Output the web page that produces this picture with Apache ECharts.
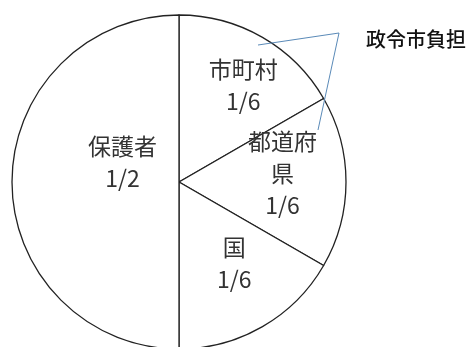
<!DOCTYPE html>
<html>
<head>
<meta charset="utf-8">
<script src="https://cdn.jsdelivr.net/npm/echarts@6/dist/echarts.min.js"></script>
<style>
  html, body { margin: 0; padding: 0; background: #fff; }
  #main { width: 475px; height: 347px; }
</style>
</head>
<body>
<div id="main"></div>
<script>
    // 負担割合（1/6 単位）
    var names = ['市町村', '都道府県', '国', '保護者'];
    var shares = [1, 1, 1, 3];
    var shownNames = ['市町村', '都道府\n県', '国', '保護者'];
    var fractions = ['1/6', '1/6', '1/6', '1/2'];
    var noteText = '政令市負担';

    // ラベル位置の微調整
    var labelShift = [[21, -22], [17, -9], [12, 6], [30, -20]];

    var chart = echarts.init(document.getElementById('main'));

    var option = {
        animation: false,
        backgroundColor: '#fff',
        title: {
            text: noteText,
            left: 361,
            top: 24,
            textStyle: {
                fontFamily: 'Noto Sans CJK JP',
                fontSize: 20,
                fontWeight: 500,
                color: '#111'
            }
        },
        series: [
            {
                type: 'pie',
                center: [179, 182],
                radius: 167,
                startAngle: 90,
                clockwise: true,
                silent: true,
                itemStyle: {
                    color: '#fff',
                    borderColor: '#222',
                    borderWidth: 1.3
                },
                label: {
                    show: true,
                    position: 'inside',
                    fontFamily: 'Noto Sans CJK JP',
                    fontSize: 23,
                    lineHeight: 32,
                    color: '#333',
                    formatter: function (p) {
                        return shownNames[p.dataIndex] + '\n' + fractions[p.dataIndex];
                    }
                },
                labelLine: { show: false },
                labelLayout: function (p) {
                    return { dx: labelShift[p.dataIndex][0], dy: labelShift[p.dataIndex][1] };
                },
                data: names.map(function (n, i) {
                    return { name: n, value: shares[i] };
                })
            }
        ],
        graphic: [
            {
                type: 'polyline',
                z: 100,
                shape: { points: [[258, 45], [339, 33], [318, 130]] },
                style: { stroke: '#5a8ab8', lineWidth: 1, fill: null }
            }
        ]
    };

    chart.setOption(option);
</script>
</body>
</html>
